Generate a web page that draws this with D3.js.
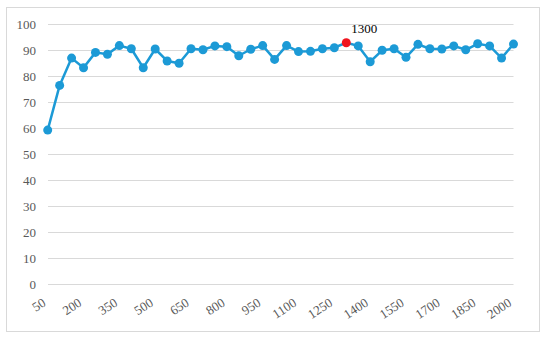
<!DOCTYPE html>
<html>
<head>
<meta charset="utf-8">
<script src="https://cdn.jsdelivr.net/npm/d3@7"></script>
<style>
  body { margin: 0; background: #fff; }
  svg { display: block; }
</style>
</head>
<body>
<svg width="550" height="338"></svg>
<script>
var sizes = d3.range(50, 2001, 50);
var accuracy = [59.3, 76.5, 87.0, 83.3, 89.2, 88.5, 91.8, 90.6, 83.3, 90.5,
                85.9, 85.0, 90.6, 90.2, 91.7, 91.4, 87.9, 90.4, 91.8, 86.5,
                91.8, 89.5, 89.6, 90.6, 91.0, 92.9, 91.7, 85.6, 90.0, 90.6,
                87.3, 92.3, 90.6, 90.5, 91.7, 90.2, 92.5, 91.7, 87.0, 92.4];
var xTickLabels = [50, 200, 350, 500, 650, 800, 950, 1100, 1250, 1400, 1550, 1700, 1850, 2000];
var yTicks = [0, 10, 20, 30, 40, 50, 60, 70, 80, 90, 100];
var highlight = 1300;

var svg = d3.select("svg"),
    font = "'Liberation Serif', 'Times New Roman', serif";

// chart area border
svg.append("rect")
    .attr("x", 6.5).attr("y", 7.5)
    .attr("width", 533).attr("height", 324)
    .attr("fill", "#fff")
    .attr("stroke", "#d9d9d9");

var x = d3.scalePoint().domain(sizes).range([47.7, 513.5]),
    y = d3.scaleLinear().domain([0, 100]).range([284.3, 24.3]);

// grid
svg.append("g")
    .selectAll("line")
    .data(yTicks)
    .join("line")
    .attr("x1", 48).attr("x2", 513.5)
    .attr("y1", function(d) { return Math.round(y(d)) + 0.5; })
    .attr("y2", function(d) { return Math.round(y(d)) + 0.5; })
    .attr("stroke", "#d9d9d9")
    .attr("stroke-width", 1);

// y labels
svg.append("g")
    .selectAll("text")
    .data(yTicks)
    .join("text")
    .attr("x", 36)
    .attr("y", function(d) { return y(d) + 4.5; })
    .attr("text-anchor", "end")
    .attr("font-family", font)
    .attr("font-size", 13)
    .attr("fill", "#595959")
    .text(function(d) { return d; });

// x labels (rotated)
svg.append("g")
    .selectAll("text")
    .data(xTickLabels)
    .join("text")
    .attr("text-anchor", "end")
    .attr("transform", function(d) { return "translate(" + (x(d) - 1) + ",305) rotate(-33)"; })
    .attr("font-family", font)
    .attr("font-size", 13)
    .attr("fill", "#595959")
    .text(function(d) { return d; });

// line
var line = d3.line()
    .x(function(d, i) { return x(sizes[i]); })
    .y(function(d) { return y(d); });

svg.append("path")
    .datum(accuracy)
    .attr("d", line)
    .attr("fill", "none")
    .attr("stroke", "#1c9ad6")
    .attr("stroke-width", 2.5)
    .attr("stroke-linejoin", "round");

svg.append("g")
    .selectAll("circle")
    .data(accuracy)
    .join("circle")
    .attr("cx", function(d, i) { return x(sizes[i]); })
    .attr("cy", function(d) { return y(d); })
    .attr("r", 4.5)
    .attr("fill", function(d, i) { return sizes[i] === highlight ? "#f0141e" : "#1c9ad6"; });

// label on the highlighted point
var hi = sizes.indexOf(highlight);
svg.append("text")
    .attr("x", x(highlight) + 18)
    .attr("y", y(accuracy[hi]) - 10)
    .attr("text-anchor", "middle")
    .attr("font-family", font)
    .attr("font-size", 13)
    .attr("fill", "#000")
    .text(highlight);
</script>
</body>
</html>
